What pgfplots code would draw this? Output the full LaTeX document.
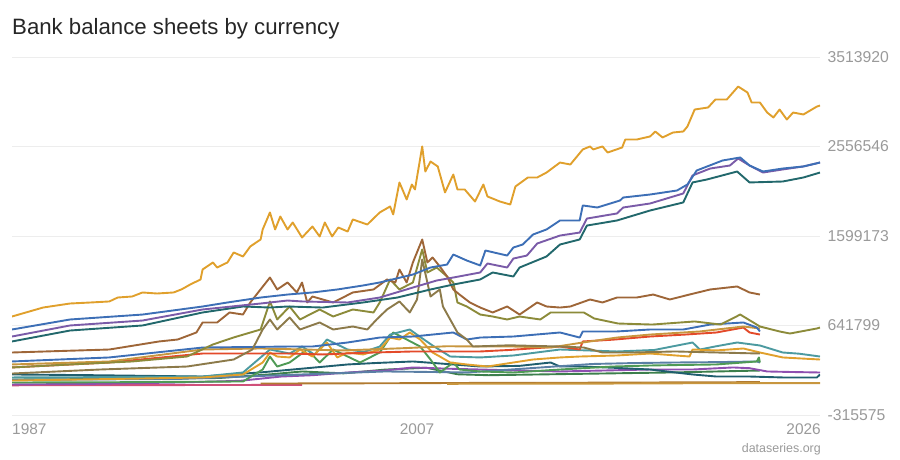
\documentclass[border=0pt]{standalone}
\usepackage{pgfplots}
\pgfplotsset{compat=1.18}
\usepackage{fontspec}
\setmainfont{Liberation Sans}
\definecolor{cgold}{HTML}{E0A02C}
\definecolor{cblue}{HTML}{3D6FB6}
\definecolor{cpurple}{HTML}{7A5BA8}
\definecolor{cdteal}{HTML}{22686C}
\definecolor{cbrown}{HTML}{9E6638}
\definecolor{colive}{HTML}{8C8B3A}
\definecolor{ckhaki}{HTML}{8C7A4A}
\definecolor{cred}{HTML}{E34A2A}
\definecolor{ctan}{HTML}{C8963E}
\definecolor{cgreen}{HTML}{4F9A55}
\definecolor{cdgreen}{HTML}{3C7F4C}
\definecolor{ccadet}{HTML}{4C9AA0}
\definecolor{cpurple2}{HTML}{8E4FB0}
\definecolor{cdteal2}{HTML}{1F5E6E}
\definecolor{cbbrown}{HTML}{B07A30}
\definecolor{cpink}{HTML}{D0507A}
\definecolor{csteel}{HTML}{5A7FA5}
\definecolor{ctick}{HTML}{9A9A9A}
\begin{document}
\begin{tikzpicture}
\path[use as bounding box] (0,0) rectangle (900bp,460bp);
\begin{axis}[
  at={(12bp,45bp)}, anchor=south west,
  scale only axis, width=808bp, height=358bp,
  xmin=1987, xmax=2026,
  ymin=-315.575, ymax=3513.92,
  axis line style={draw=none},
  major tick length=0pt,
  xtick=\empty,
  ytick={-315.575,641.799,1599.173,2556.546,3513.92},
  yticklabels={-315575,641799,1599173,2556546,3513920},
  yticklabel pos=right,
  yticklabel style={anchor=west, xshift=4bp, font=\fontsize{15.8}{18}\selectfont, text=ctick},
  ymajorgrids,
  grid style={draw=black!7, line width=0.8bp},
  every axis plot/.append style={line width=1.9bp, no markers, line join=round},
]
% bottom series
\addplot[draw=cpink] coordinates {(1987,2) (1993,4) (1999,6) (2001,6)};
\addplot[draw=cbbrown] coordinates {(1999.0,21) (2005,24) (2010,28) (2015,30) (2020,34) (2023.1,36)};
\addplot[draw=ctan] coordinates {(2008,18) (2015,20) (2020,24) (2026,26)};
\addplot[draw=cdgreen] coordinates {(1987,64) (1992,70) (1997,80) (1999.5,120) (2001,150) (2003,130) (2005,170) (2007,190) (2008.5,120) (2010,110) (2013,120) (2016,130) (2019,140) (2021,150) (2023.1,160)};
\addplot[draw=cpurple2] coordinates {(1987,11) (1991,18) (1995,32) (1998,50) (2000,96) (2001.5,110) (2003.2,139) (2005,160) (2006.35,193) (2008,180) (2009.6,171) (2011.5,160) (2013.45,150) (2015.5,160) (2017.8,171) (2019.85,171) (2021.8,193) (2022.6,185) (2023.45,150) (2024.5,145) (2026.0,139)};
\addplot[draw=cdteal2] coordinates {(1987,118) (1991,110) (1996.2,96) (1999,140) (2001,180) (2003.2,225) (2004.5,240) (2006.35,257) (2008,230) (2009.6,203) (2011.5,210) (2013.0,246) (2013.45,203) (2014.55,203) (2016,190) (2017.8,171) (2019.85,118) (2021.0,96) (2022.6,96) (2024.2,86) (2025.85,86) (2026.0,118)};
\addplot[draw=csteel] coordinates {(1987,60) (1995,70) (2000,110) (2005,150) (2009,140) (2013.0,200) (2015,230) (2017,240) (2019,246) (2021,250) (2022.95,257) (2023.1,246)};
\addplot[draw=cgreen] coordinates {(1987.0,32) (1992,35) (1998.15,43) (1999.1,171) (1999.45,310) (1999.8,203) (2000.4,246) (2001.25,385) (2001.85,246) (2002.5,385) (2003.2,310) (2003.8,246) (2004.75,353) (2005.4,567) (2006.05,492) (2006.7,417) (2007.2,278) (2007.65,139) (2008.3,246) (2008.6,171) (2009.6,150) (2011.2,139) (2013.45,171) (2016.0,203) (2018,215) (2021.0,225) (2022.95,257) (2023.05,300) (2023.1,246)};
\addplot[draw=ccadet] coordinates {(1987.0,86) (1992,90) (1996.2,96) (1998.15,139) (1999.45,385) (2000.4,342) (2001.0,417) (2001.6,330) (2002.2,492) (2003.2,385) (2004.0,360) (2004.75,417) (2005.25,545) (2006.2,599) (2006.7,520) (2007.3,428) (2008.15,310) (2009.6,300) (2011.2,321) (2013.45,385) (2016.2,364) (2018,380) (2019.85,460) (2020.2,385) (2021,420) (2022.0,460) (2023.1,428) (2024.2,353) (2025,340) (2026.0,310)};
\addplot[draw=cgold] coordinates {(1987.0,53) (1992,70) (1996.2,86) (1998.15,118) (1999.1,246) (1999.45,353) (1999.8,310) (2000.4,300) (2000.9,385) (2001.5,310) (2002.2,460) (2002.7,300) (2003.2,353) (2003.95,332) (2004.75,385) (2005.25,513) (2005.7,492) (2006.2,567) (2006.7,492) (2007.3,353) (2007.65,310) (2008.15,246) (2008.95,225) (2009.95,203) (2011.2,246) (2012.15,278) (2013.45,300) (2014.4,310) (2016.2,321) (2017.8,342) (2019.7,310) (2019.85,385) (2021.0,375) (2022.3,396) (2023.1,353) (2024.2,300) (2025,290) (2026.0,278)};
\addplot[draw=cred] coordinates {(1987.0,193) (1991.7,246) (1996.2,342) (2000.4,342) (2002.0,332) (2004,350) (2006.35,364) (2009.6,364) (2011,380) (2013.45,417) (2014.4,385) (2014.55,471) (2016,490) (2017.8,524) (2019.5,545) (2021.0,567) (2022.3,620) (2022.6,567) (2023.1,545)};
\addplot[draw=ctan] coordinates {(1987.0,225) (1991.7,257) (1996.2,385) (1999.0,396) (2003.0,375) (2006.0,400) (2008.0,420) (2009.6,417) (2011.2,417) (2013.0,406) (2014.55,460) (2016.2,513) (2017.8,545) (2020.2,578) (2022.3,631) (2023.1,610)};
\addplot[draw=cblue] coordinates {(1987.0,257) (1991.7,300) (1996.2,406) (2000.4,417) (2001.5,417) (2003.2,460) (2004.75,513) (2006.35,524) (2008.3,567) (2008.95,492) (2009.6,513) (2011.2,524) (2013.45,567) (2014.4,513) (2014.55,578) (2016.2,578) (2017.8,599) (2019.4,599) (2020.7,652) (2022.3,674) (2022.95,620) (2023.1,578)};
\addplot[draw=ckhaki] coordinates {(1987.0,128) (1991.25,171) (1995.45,203) (1997.7,278) (1998.6,385) (1999.1,599) (1999.45,706) (1999.8,599) (2000.4,727) (2000.9,599) (2001.85,674) (2002.5,599) (2003.45,631) (2004.15,599) (2004.6,706) (2005.1,813) (2005.7,899) (2006.2,781) (2006.55,920) (2006.8,1348) (2007.2,952) (2007.65,1027) (2007.8,845) (2008.15,706) (2008.5,567) (2008.95,492) (2009.25,417) (2011,430) (2013.45,417) (2014.6,406) (2015.5,353) (2017.0,353) (2019.0,364) (2021.0,353) (2023.1,342)};
\addplot[draw=colive] coordinates {(1987.0,193) (1989.8,225) (1992.8,257) (1995.45,310) (1996.7,439) (1997.7,514) (1999.0,599) (1999.45,899) (1999.8,706) (2000.4,845) (2000.9,706) (2001.85,813) (2002.5,738) (2003.45,813) (2004.45,781) (2004.75,888) (2005.25,1134) (2005.7,1027) (2006.35,1102) (2006.8,1455) (2007.05,1209) (2007.5,1262) (2008.0,1166) (2008.3,1102) (2008.5,888) (2008.95,845) (2009.6,759) (2010.2,738) (2010.9,706) (2011.5,738) (2012.5,706) (2013.0,781) (2014.6,781) (2015.1,717) (2016.25,663) (2017.9,652) (2019.95,685) (2021.2,652) (2022.15,759) (2023.1,631) (2024.05,578) (2024.55,556) (2025.85,610) (2026.0,620)};
\addplot[draw=cbrown] coordinates {(1987.0,353) (1991.7,385) (1994.1,471) (1995.0,492) (1995.9,567) (1996.2,674) (1996.9,674) (1997.5,781) (1998.15,759) (1998.5,888) (1999.45,1155) (1999.8,1027) (2000.3,1102) (2000.75,995) (2001.0,1102) (2001.25,888) (2001.5,952) (2002.5,888) (2003.45,995) (2004.45,1027) (2005.1,1134) (2005.5,1102) (2005.7,1241) (2006.05,1102) (2006.35,1316) (2006.8,1562) (2007.05,1316) (2007.3,1369) (2007.65,1273) (2008.0,1166) (2008.3,1027) (2008.6,973) (2009.1,888) (2009.6,834) (2010.2,781) (2010.9,845) (2011.5,759) (2012.35,888) (2012.8,845) (2013.45,834) (2013.95,845) (2014.9,920) (2015.5,888) (2016.2,941) (2017.15,941) (2017.95,973) (2018.75,920) (2019.7,973) (2020.7,1027) (2022.0,1059) (2022.6,995) (2023.1,973)};
\addplot[draw=cdteal] coordinates {(1987.0,471) (1989.8,588) (1993.3,642) (1996.2,781) (1998.15,845) (1999.45,834) (2000.3,845) (2002.0,834) (2003.95,888) (2005.6,941) (2007.2,1027) (2008.3,1080) (2009.6,1134) (2010.2,1209) (2011.2,1166) (2011.5,1262) (2012.8,1380) (2013.45,1508) (2014.4,1562) (2014.75,1711) (2016.2,1765) (2017.8,1872) (2019.4,1958) (2019.85,2172) (2020.55,2204) (2022.0,2289) (2022.6,2172) (2024.2,2182) (2025.2,2225) (2026.0,2278)};
\addplot[draw=cpurple] coordinates {(1987.0,524) (1989.8,642) (1993.3,695) (1996.2,813) (1999.0,877) (2000.3,909) (2001.0,899) (2003.2,888) (2004.75,941) (2006.35,1048) (2007.5,1123) (2008.3,1155) (2009.6,1209) (2009.95,1305) (2010.9,1262) (2011.2,1358) (2011.85,1390) (2012.35,1519) (2013.45,1604) (2014.4,1636) (2014.75,1786) (2016.2,1840) (2016.5,1904) (2017.8,1947) (2019.4,2054) (2019.85,2247) (2020.7,2321) (2021.65,2353) (2022.05,2428) (2022.6,2353) (2023.25,2278) (2024.2,2311) (2025.2,2343) (2026.0,2385)};
\addplot[draw=cblue] coordinates {(1987.0,599) (1989.8,706) (1993.3,759) (1996.2,845) (1997.4,888) (1999.0,941) (2000.3,973) (2001.5,995) (2002.7,1027) (2003.95,1070) (2004.75,1102) (2006.35,1187) (2007.2,1262) (2008.0,1294) (2008.3,1401) (2008.95,1337) (2009.6,1284) (2009.85,1444) (2010.9,1390) (2011.2,1476) (2011.65,1508) (2012.15,1615) (2012.8,1669) (2013.45,1765) (2014.4,1765) (2014.55,1926) (2015.25,1904) (2016.35,1979) (2016.5,2011) (2017.8,2043) (2019.1,2086) (2019.6,2150) (2020.05,2300) (2021.3,2407) (2022.15,2439) (2022.6,2353) (2023.25,2289) (2024.2,2321) (2025.2,2343) (2026.0,2385)};
\addplot[draw=cgold] coordinates {(1987.0,738) (1988.5,834) (1989.8,877) (1990.8,888) (1991.7,899) (1992.1,941) (1992.8,952) (1993.3,995) (1994.0,984) (1994.8,995) (1995.2,1030) (1995.6,1080) (1996.1,1134) (1996.2,1241) (1996.7,1316) (1996.9,1262) (1997.4,1316) (1997.7,1423) (1998.15,1380) (1998.5,1487) (1999.0,1562) (1999.1,1669) (1999.45,1851) (1999.7,1669) (1999.95,1808) (2000.3,1669) (2000.55,1744) (2001.0,1583) (2001.5,1701) (2001.85,1594) (2002.1,1744) (2002.45,1594) (2002.75,1690) (2003.2,1647) (2003.45,1776) (2004.15,1722) (2004.75,1851) (2005.25,1915) (2005.4,1830) (2005.7,2172) (2006.05,1990) (2006.3,2150) (2006.45,2097) (2006.8,2557) (2006.95,2289) (2007.2,2396) (2007.55,2343) (2007.9,2065) (2008.3,2257) (2008.5,2097) (2008.85,2097) (2009.35,1968) (2009.75,2150) (2009.95,2022) (2010.55,1968) (2011.05,1936) (2011.3,2129) (2011.9,2225) (2012.35,2225) (2012.8,2278) (2013.45,2385) (2013.95,2364) (2014.55,2525) (2014.9,2557) (2015.05,2525) (2015.5,2557) (2015.75,2492) (2016.45,2546) (2016.6,2631) (2017.15,2631) (2017.8,2664) (2018.05,2717) (2018.4,2653) (2018.9,2706) (2019.4,2717) (2019.6,2770) (2019.95,2952) (2020.6,2974) (2020.95,3059) (2021.5,3059) (2022.05,3198) (2022.5,3134) (2022.7,3027) (2023.1,3027) (2023.45,2920) (2023.75,2867) (2024.05,2952) (2024.4,2845) (2024.7,2920) (2025.2,2899) (2025.85,2984) (2026.0,2995)};
\end{axis}
\node[anchor=base west, inner sep=0pt, text=black!85, font=\fontsize{22.3}{26}\selectfont] at (12bp,425bp) {Bank balance sheets by currency};
\node[anchor=base west, inner sep=0pt, text=ctick, font=\fontsize{15.5}{18}\selectfont] at (12bp,26bp) {1987};
\node[anchor=base, inner sep=0pt, text=ctick, font=\fontsize{15.5}{18}\selectfont] at (417bp,26bp) {2007};
\node[anchor=base east, inner sep=0pt, text=ctick, font=\fontsize{15.5}{18}\selectfont] at (821bp,26bp) {2026};
\node[anchor=base east, inner sep=0pt, text=ctick, font=\fontsize{12.5}{15}\selectfont] at (821bp,8bp) {dataseries.org};
\end{tikzpicture}
\end{document}
